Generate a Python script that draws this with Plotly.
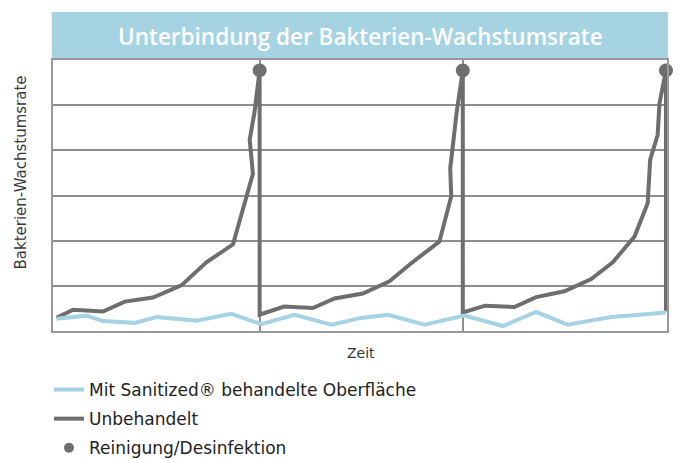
import plotly.graph_objects as go

# Unbehandelt (grey) – Zeit in Tagen (3 Reinigungszyklen à 10), relative Wachstumsrate
untreated_x = [0, 0.82, 2.29, 3.36, 4.75, 6.15, 7.38, 8.69, 9.67, 9.51, 9.75, 10,
               10, 11.20, 12.62, 13.69, 15.08, 16.39, 17.46, 18.85, 19.43, 19.38, 19.70, 20,
               20, 21.10, 22.54, 23.61, 25.00, 26.32, 27.38, 28.45, 29.10, 29.22, 29.59, 29.68, 30,
               30]
untreated_y = [0.29, 0.47, 0.43, 0.65, 0.74, 1.01, 1.52, 1.92, 3.48, 4.23, 4.85, 5.77,
               0.36, 0.54, 0.51, 0.72, 0.83, 1.10, 1.50, 1.98, 2.98, 3.60, 4.85, 5.77,
               0.41, 0.56, 0.53, 0.75, 0.88, 1.15, 1.52, 2.09, 2.83, 3.79, 4.34, 5.04, 5.77,
               0.44]

# Mit Sanitized® behandelte Oberfläche (light blue)
treated_x = [0, 1.48, 2.29, 3.85, 4.92, 6.89, 8.61, 10.08, 11.72, 13.53, 15.0, 16.31,
             18.12, 20.08, 21.97, 23.61, 25.16, 27.30, 28.7, 30.0]
treated_y = [0.27, 0.34, 0.22, 0.18, 0.31, 0.23, 0.38, 0.15, 0.36, 0.14, 0.29, 0.36,
             0.14, 0.34, 0.11, 0.42, 0.14, 0.31, 0.36, 0.41]

# Reinigung/Desinfektion
cleaning_x = [10, 20, 30]
cleaning_y = [5.77, 5.77, 5.77]

title_text = "Unterbindung der Bakterien-Wachstumsrate"
y_label = "Bakterien-Wachstumsrate"
x_label = "Zeit"
legend_names = ["Mit Sanitized® behandelte Oberfläche", "Unbehandelt", "Reinigung/Desinfektion"]

GREY = "#6e6e6e"
BLUE = "#a6d3e3"
GRID = "#8e8e8e"
TXT_FONT = "DejaVu Sans"

fig = go.Figure()
fig.add_trace(go.Scatter(x=untreated_x, y=untreated_y, mode="lines", name=legend_names[1],
                         line=dict(color=GREY, width=4), legendrank=2, legendgroup="b",
                         cliponaxis=False))
fig.add_trace(go.Scatter(x=treated_x, y=treated_y, mode="lines", name=legend_names[0],
                         line=dict(color=BLUE, width=4), legendrank=1, legendgroup="a"))
fig.add_trace(go.Scatter(x=cleaning_x, y=cleaning_y, mode="markers", name=legend_names[2],
                         marker=dict(color=GREY, size=14), showlegend=False, cliponaxis=False))
fig.add_trace(go.Scatter(x=[None], y=[None], mode="markers", name=legend_names[2],
                         marker=dict(color=GREY, size=10), legendrank=3, legendgroup="c"))

W, H = 679, 459
L, R, T, B = 53, 12, 60, 128
ph = H - T - B
pw = W - L - R

def py(p):
    return (H - B - p) / ph

def px(p):
    return (p - L) / pw

fig.add_shape(type="rect", xref="paper", yref="paper", x0=px(51.7), x1=px(668), y0=1.0, y1=py(12),
              fillcolor="#a6d3e2", line=dict(width=0), layer="below")
fig.add_annotation(text=title_text, xref="paper", yref="paper", x=px(360), y=py(36),
                   xanchor="center", yanchor="middle",
                   showarrow=False, font=dict(family="Open Sans", size=22.5, color="white", weight=600))
fig.add_annotation(text=y_label, xref="paper", yref="paper", x=px(20.5), y=py(173), textangle=-90,
                   xanchor="center", yanchor="middle",
                   showarrow=False, font=dict(family=TXT_FONT, size=15, color="#3a3a3a"))
fig.add_annotation(text=x_label, xref="paper", yref="paper", x=px(361), y=py(353),
                   xanchor="center", yanchor="middle",
                   showarrow=False, font=dict(family=TXT_FONT, size=14, color="#333333"))

fig.update_layout(
    width=W, height=H,
    margin=dict(l=L, r=R, t=T, b=B, autoexpand=False),
    paper_bgcolor="white", plot_bgcolor="white",
    showlegend=True,
    legend=dict(x=px(49), y=py(372), xanchor="left", yanchor="top",
                font=dict(family=TXT_FONT, size=17, color="#222222"),
                tracegroupgap=4, itemsizing="trace"),
    xaxis=dict(range=[-0.17, 30.05], tickvals=[10, 20], showticklabels=False, ticks="",
               showgrid=True, gridcolor=GRID, gridwidth=1.5, zeroline=False,
               showline=True, linecolor="#999999", linewidth=1.5, mirror=True, fixedrange=True),
    yaxis=dict(range=[0, 6], dtick=1, showticklabels=False, ticks="",
               showgrid=True, gridcolor=GRID, gridwidth=1.5, zeroline=False,
               showline=True, linecolor="#999999", linewidth=1.5, mirror=True, fixedrange=True),
)

fig.write_html("out.html", config={"displayModeBar": False},
               post_script="document.body.style.margin='0';")
